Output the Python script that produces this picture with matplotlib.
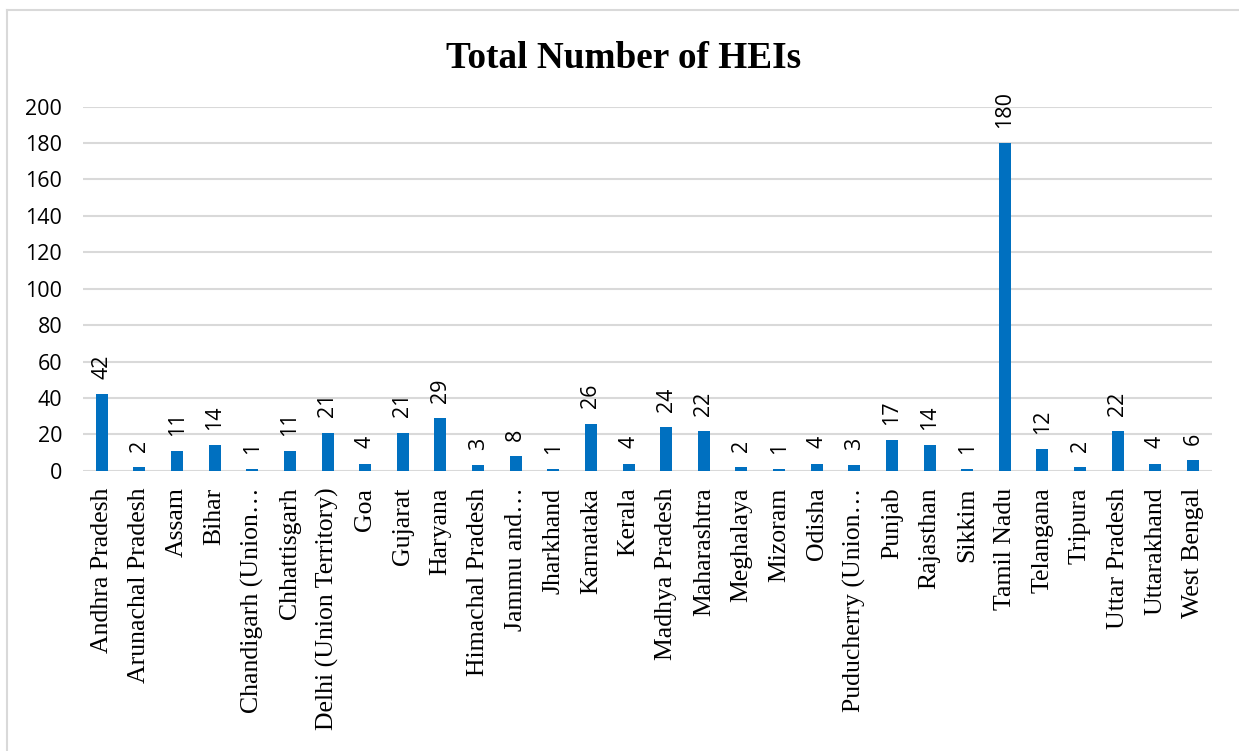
import matplotlib
matplotlib.use("Agg")
from matplotlib import pyplot as plt
from matplotlib.lines import Line2D

# Data
states = ["Andhra Pradesh", "Arunachal Pradesh", "Assam", "Bihar",
          "Chandigarh (Union\u2026", "Chhattisgarh", "Delhi (Union Territory)",
          "Goa", "Gujarat", "Haryana", "Himachal Pradesh", "Jammu and\u2026",
          "Jharkhand", "Karnataka", "Kerala", "Madhya Pradesh", "Maharashtra",
          "Meghalaya", "Mizoram", "Odisha", "Puducherry (Union\u2026", "Punjab",
          "Rajasthan", "Sikkim", "Tamil Nadu", "Telangana", "Tripura",
          "Uttar Pradesh", "Uttarakhand", "West Bengal"]
hei_counts = [42, 2, 11, 14, 1, 11, 21, 4, 21, 29, 3, 8, 1, 26, 4, 24, 22,
              2, 1, 4, 3, 17, 14, 1, 180, 12, 2, 22, 4, 6]
y_ticks = [0, 20, 40, 60, 80, 100, 120, 140, 160, 180, 200]

fig = plt.figure(figsize=(12.39, 7.51), dpi=100)
ax = fig.add_axes([0.067, 0.373, 0.911, 0.485])

x = range(len(states))
bars = ax.bar(x, hei_counts, width=0.32, color="#0070C0", zorder=3)

# value labels above bars
for b, v in zip(bars, hei_counts):
    ax.annotate(str(v), (b.get_x() + b.get_width() / 2, b.get_height()),
                xytext=(0, 11), textcoords="offset points",
                ha="center", va="bottom", rotation=90,
                fontsize=15.5, family="Open Sans", color="black")

ax.set_xlim(-0.5, len(states) - 0.5)
ax.set_ylim(0, 200)
ax.set_yticks(y_ticks)
ax.set_yticklabels([str(t) for t in y_ticks], fontsize=15.5, family="Open Sans")
ax.set_xticks(list(x))
ax.set_xticklabels(states, rotation=90, fontsize=18.5, family="Liberation Serif",
                   va="top", ha="center")
ax.tick_params(axis="both", length=0)
ax.tick_params(axis="x", pad=12)
ax.tick_params(axis="y", pad=15)

ax.grid(axis="y", color="#D9D9D9", linewidth=1.5, zorder=0)
for s in ax.spines.values():
    s.set_visible(False)

fig.suptitle("Total Number of HEIs", x=0.503, y=0.945, fontsize=26.8,
             fontweight="bold", family="Liberation Serif")

# chart area border (top and left visible)
fig.add_artist(Line2D([7 / 1239, 1], [1 - 10 / 751, 1 - 10 / 751],
                      color="#D9D9D9", linewidth=1.5))
fig.add_artist(Line2D([7 / 1239, 7 / 1239], [0, 1 - 10 / 751],
                      color="#D9D9D9", linewidth=1.5))

plt.savefig("out.png", dpi=100)
